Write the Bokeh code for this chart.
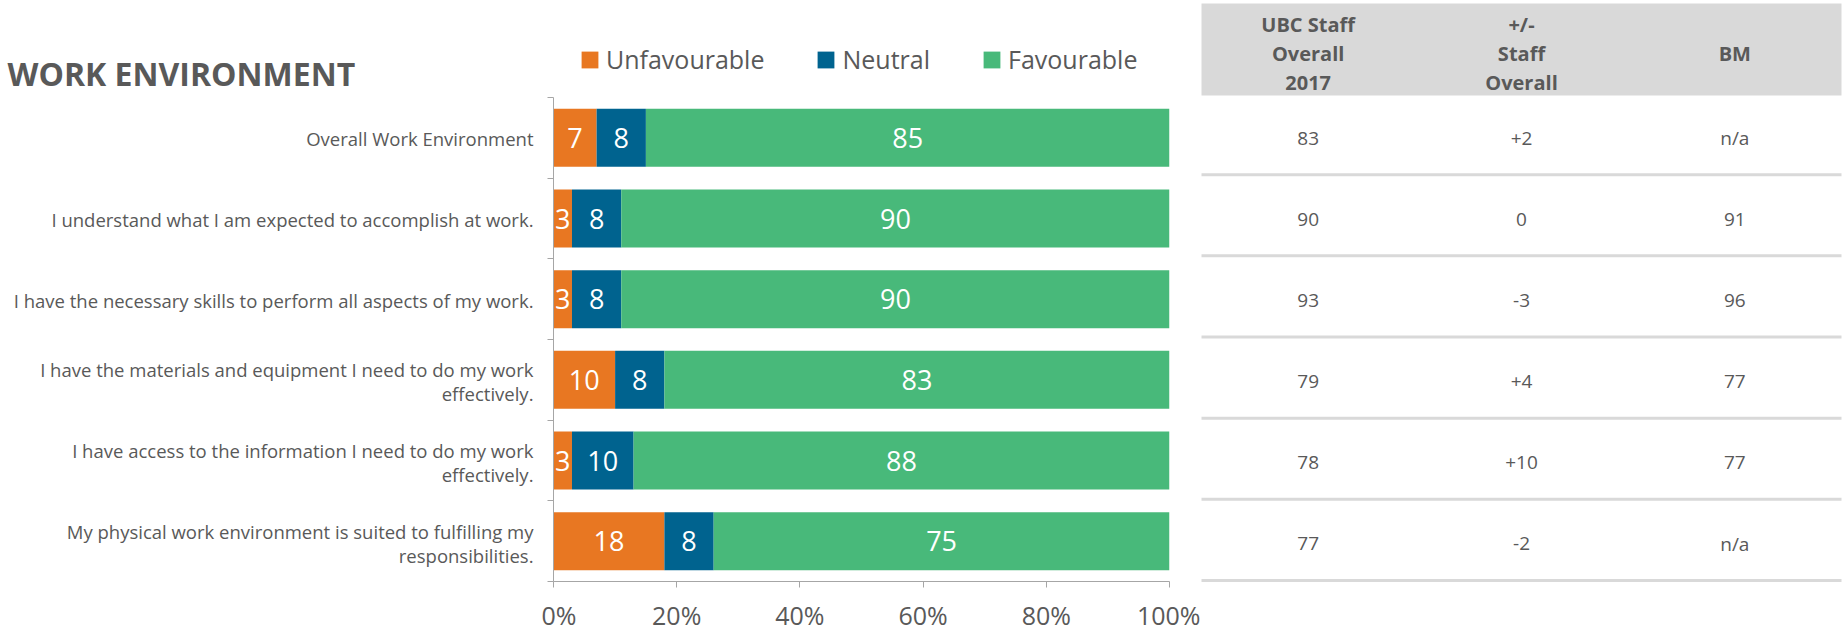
from bokeh.plotting import figure
from bokeh.models import Range1d, FixedTicker, Legend, LegendItem, ColumnDataSource
from bokeh.layouts import row, column
from bokeh.core.properties import value
from bokeh.embed import file_html
from bokeh.resources import INLINE

# ---------------- data ----------------
categories = [
    "Overall Work Environment",
    "I understand what I am expected to accomplish at work.",
    "I have the necessary skills to perform all aspects of my work.",
    "I have the materials and equipment I need to do my work\neffectively.",
    "I have access to the information I need to do my work\neffectively.",
    "My physical work environment is suited to fulfilling my\nresponsibilities.",
]
series_names = ["Unfavourable", "Neutral", "Favourable"]
unfavourable = [7, 3, 3, 10, 3, 18]
neutral = [8, 8, 8, 8, 10, 8]
favourable = [85, 90, 90, 83, 88, 75]
x_ticks = [0, 20, 40, 60, 80, 100]
x_tick_labels = ["0%", "20%", "40%", "60%", "80%", "100%"]
title_text = "WORK ENVIRONMENT"
table_headers = ["UBC Staff\nOverall\n2017", "+/-\nStaff\nOverall", "BM"]
ubc_staff_2017 = ["83", "90", "93", "79", "78", "77"]
diff_staff_overall = ["+2", "0", "-3", "+4", "+10", "-2"]
bm = ["n/a", "91", "96", "77", "77", "n/a"]

# ---------------- style / layout constants ----------------
FONT = "Open Sans"
GREY = "#595959"
AXIS_GREY = "#A6A6A6"
LINE_GREY = "#D9D9D9"
COLORS = ["#E87722", "#00638F", "#48B97A"]
H = 634
FT, FB = 97, 584          # frame top / bottom (canvas px)
FL, FR = 553, 1169        # frame left / right (canvas px)
M_LEFT, M_RIGHT = 541, 1200
WL = M_LEFT
WM = M_RIGHT - M_LEFT
WT = 1845 - M_RIGHT
n = len(categories)
PITCH = (FB - FT) / n


def cat_range():
    # category units mapped on full-height frames, aligned with the chart frame
    return Range1d(n + (H - FB) / PITCH, -FT / PITCH)


# ---------------- chart ----------------
p = figure(width=WM, height=H - FT, x_range=Range1d(0, 100), y_range=Range1d(n, 0),
           output_backend="svg", toolbar_location=None,
           min_border_left=FL - M_LEFT, min_border_right=M_RIGHT - FR,
           min_border_top=0, min_border_bottom=H - FB)
p.outline_line_color = None
p.grid.visible = False

xa = p.xaxis[0]
xa.ticker = FixedTicker(ticks=x_ticks)
xa.major_label_overrides = {t: l for t, l in zip(x_ticks, x_tick_labels)}
xa.major_label_text_font = FONT
xa.major_label_text_font_size = "25px"
xa.major_label_text_color = GREY
xa.axis_line_color = AXIS_GREY
xa.major_tick_line_color = AXIS_GREY
xa.major_tick_out = 6
xa.major_tick_in = 0
xa.minor_tick_line_color = None
xa.major_label_standoff = 10

ya = p.yaxis[0]
ya.ticker = FixedTicker(ticks=list(range(n + 1)))
ya.major_label_overrides = {i: "" for i in range(n + 1)}
ya.major_label_standoff = 0
ya.axis_line_color = AXIS_GREY
ya.major_tick_line_color = AXIS_GREY
ya.major_tick_out = 6
ya.major_tick_in = 0
ya.minor_tick_line_color = None

src = ColumnDataSource(dict(y=[i + 0.5 for i in range(n)],
                            Unfavourable=unfavourable, Neutral=neutral, Favourable=favourable))
rs = p.hbar_stack(series_names, y="y", height=0.72, color=COLORS, line_color=None, source=src)

lx, ly, lt = [], [], []
for i in range(n):
    start = 0
    for vals in (unfavourable, neutral, favourable):
        v = vals[i]
        end = min(start + v, 100)
        lx.append((start + end) / 2)
        ly.append(i + 0.5)
        lt.append(str(v))
        start += v
p.text(x=lx, y=ly, text=lt, text_align="center", text_baseline="middle",
       text_color="white", text_font=value(FONT), text_font_size="27px")

# ---------------- legend strip above the chart ----------------
g = figure(width=WM, height=FT, x_range=Range1d(0, WM), y_range=Range1d(0, FT),
           output_backend="svg", toolbar_location=None, x_axis_type=None, y_axis_type=None,
           min_border_left=0, min_border_right=0, min_border_top=0, min_border_bottom=0)
g.outline_line_color = None
g.grid.visible = False
# the same stacked series, hidden, only used to feed the legend
rg = g.hbar_stack(series_names, y="y", height=0.72, color=COLORS, line_color=None, source=src)
items = []
for name, r in zip(series_names, rg):
    r.visible = False
    items.append(LegendItem(label=name, renderers=[r]))
leg = Legend(items=items, location=(580 - 13 - M_LEFT, 21), orientation="horizontal",
             border_line_color=None, background_fill_alpha=0, padding=0, margin=0,
             spacing=51, glyph_width=21, glyph_height=21, label_standoff=6,
             label_text_font=FONT, label_text_font_size="25px", label_text_color=GREY,
             click_policy="none")
g.add_layout(leg, "center")

# ---------------- left side: title + category labels ----------------
lf = figure(width=WL, height=H, x_range=Range1d(0, WL), y_range=cat_range(),
            output_backend="svg", toolbar_location=None, x_axis_type=None, y_axis_type=None,
            min_border_left=0, min_border_right=0, min_border_top=0, min_border_bottom=0)
lf.outline_line_color = None
lf.grid.visible = False
lf.text(x=[7], y=[(73 - FT) / PITCH], text=[title_text], text_align="left",
        text_baseline="middle", text_color=GREY, text_font=value(FONT),
        text_font_size="32px", text_font_style="bold")
LH = 24
cx, cy, ct = [], [], []
for i, cat in enumerate(categories):
    lines = cat.split("\n")
    k = len(lines)
    for j, line in enumerate(lines):
        cx.append(FL - 20)
        cy.append(i + 0.5 + (j - (k - 1) / 2) * LH / PITCH)
        ct.append(line)
lf.text(x=cx, y=cy, text=ct, text_align="right", text_baseline="middle",
        text_color=GREY, text_font=value(FONT), text_font_size="18.5px")

# ---------------- table ----------------
t = figure(width=WT, height=H, x_range=Range1d(0, WT), y_range=cat_range(),
           output_backend="svg", toolbar_location=None, x_axis_type=None, y_axis_type=None,
           min_border_left=0, min_border_right=0, min_border_top=0, min_border_bottom=0)
t.outline_line_color = None
t.grid.visible = False

TL = 1
TW = 640
COLW = TW / 3
t.quad(left=[TL], right=[TL + TW], top=[(3 - FT) / PITCH], bottom=[(95 - FT) / PITCH],
       fill_color=LINE_GREY, line_color=None)

hx, hy, ht = [], [], []
HLH = 29
hc = (53 - FT) / PITCH
for j, h in enumerate(table_headers):
    lines = h.split("\n")
    k = len(lines)
    for m, line in enumerate(lines):
        hx.append(TL + (j + 0.5) * COLW)
        hy.append(hc + (m - (k - 1) / 2) * HLH / PITCH)
        ht.append(line)
t.text(x=hx, y=hy, text=ht, text_align="center", text_baseline="middle",
       text_color=GREY, text_font=value(FONT), text_font_size="20px", text_font_style="bold")

vx, vy, vt = [], [], []
for j, col in enumerate((ubc_staff_2017, diff_staff_overall, bm)):
    for i, v in enumerate(col):
        vx.append(TL + (j + 0.5) * COLW)
        vy.append(i + 0.5)
        vt.append(v)
t.text(x=vx, y=vy, text=vt, text_align="center", text_baseline="middle",
       text_color=GREY, text_font=value(FONT), text_font_size="19px")

sep_y = [i + 1 - 4 / PITCH for i in range(n)]
t.segment(x0=[TL] * n, x1=[TL + TW] * n, y0=sep_y, y1=sep_y, line_color=LINE_GREY, line_width=3)

layout = row(lf, column(g, p), t)
open("out.html", "w").write(file_html(layout, INLINE))
